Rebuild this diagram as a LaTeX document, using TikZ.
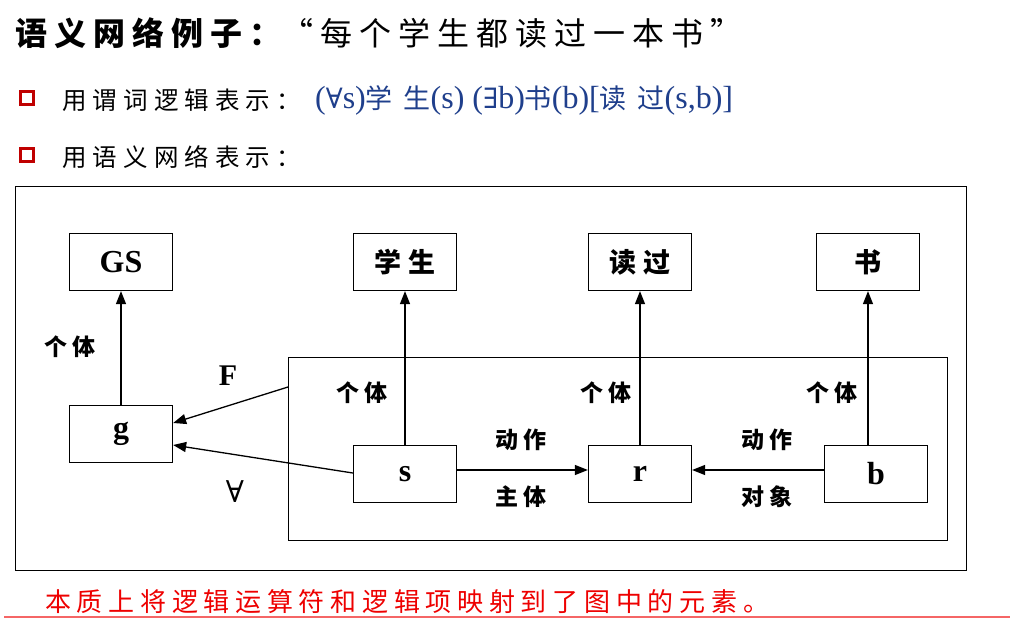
\documentclass[tikz,border=0pt]{standalone}
\usepackage{fontspec}
\setmainfont{Liberation Serif}
\newfontfamily\cjk{Noto Sans CJK SC}
\newfontfamily\cjkf{Noto Sans CJK SC}[LetterSpace=40]
\newfontfamily\cjkw{Noto Sans CJK SC}[LetterSpace=25]
\newfontfamily\cjkt{Noto Sans CJK SC}[LetterSpace=22]
\newfontfamily\symf{DejaVu Serif}
\usetikzlibrary{arrows.meta}
\definecolor{sqred}{HTML}{C00000}
\definecolor{fblue}{HTML}{1F3F8C}
\definecolor{notered}{HTML}{EE0000}
\begin{document}
\begin{tikzpicture}[x=1pt,y=-1pt,
  box/.style={draw,line width=1.3pt,minimum width=103pt,minimum height=57pt,inner sep=0pt},
  latin/.style={font=\fontsize{32}{32}\selectfont\bfseries},
  han/.style={font=\cjkw\fontsize{27}{27}\selectfont\bfseries},
  lab/.style={font=\cjkw\fontsize{23}{23}\selectfont\bfseries,inner sep=0pt},
  link/.style={line width=1.3pt,-{Triangle[length=13pt,width=10pt]}},
  frame/.style={draw,line width=1.3pt,inner sep=0pt},
  bullet/.style={draw=sqred,line width=3.5pt,minimum size=13pt,inner sep=0pt},
  head/.style={anchor=west,inner sep=0pt},
]
\useasboundingbox (0,0) rectangle (1010,627);
\fill[white] (0,0) rectangle (1010,627);

% heading
\node[head,font=\cjkt\fontsize{32}{32}\selectfont] (title) at (15,33)
  {{\bfseries 语义网络例子：}“每个学生都读过一本书”};

% bullet lines
\node[bullet] (sq1) at (27,98) {};
\node[head,font=\cjkw\fontsize{24.5}{24.5}\selectfont] (t1) at (62,100) {用谓词逻辑表示：};
\node[head,text=fblue,font=\fontsize{32}{32}\selectfont] (f1) at (315,100)
  {({\symf\fontsize{28}{28}\selectfont ∀}s){\cjkf\fontsize{27}{27}\selectfont 学生}(s) ({\symf\fontsize{28}{28}\selectfont ∃}b){\cjkf\fontsize{27}{27}\selectfont 书}(b)[{\cjkf\fontsize{27}{27}\selectfont 读过}(s,b)]};
\node[bullet] (sq2) at (27,155) {};
\node[head,font=\cjkw\fontsize{24.5}{24.5}\selectfont] (t2) at (62,157) {用语义网络表示：};

% frames
\node[frame,anchor=north west,minimum width=951pt,minimum height=384pt] (outer) at (15,186) {};
\node[frame,anchor=north west,minimum width=659pt,minimum height=183pt] (inner) at (288,357) {};

% upper concept boxes
\node[box,latin] (nGS) at (121,262) {GS};
\node[box,han] (nXS) at (405,262) {学生};
\node[box,han] (nDG) at (640,262) {读过};
\node[box,han] (nShu) at (868,262) {书};

% lower instance boxes
\node[box,latin] (ng) at (121,434) {g};
\node[box,latin] (ns) at (405,474) {s};
\node[box,latin] (nr) at (640,474) {r};
\node[box,latin] (nb) at (876,474) {b};

% instance-of links
\draw[link] (ng) -- (nGS);
\draw[link] (ns) -- (nXS);
\draw[link] (nr) -- (nDG);
\draw[link] (nb.north -| nShu.south) -- (nShu.south);

% relation links
\draw[link] ([yshift=4pt]ns.east) -- ([yshift=4pt]nr.west);
\draw[link] ([yshift=4pt]nb.west) -- ([yshift=4pt]nr.east);

% quantifier links
\coordinate (fsrc) at (288,387);
\draw[link] (fsrc) -- ([yshift=11pt]ng.east);
\draw[link] ([yshift=1pt]ns.west) -- ([yshift=-11pt]ng.east);

% link labels
\node[lab] (l1) at (70,347) {个体};
\node[lab] (l2) at (362,393) {个体};
\node[lab] (l3) at (606,393) {个体};
\node[lab] (l4) at (832,393) {个体};
\node[lab] (l5) at (521,440) {动作};
\node[lab] (l6) at (521,497) {主体};
\node[lab] (l7) at (767,440) {动作};
\node[lab] (l8) at (767,497) {对象};
\node[font=\fontsize{30}{30}\selectfont\bfseries,inner sep=0pt] (lF) at (228,376) {F};
\node[font=\symf\fontsize{30}{30}\selectfont,inner sep=0pt] (lA) at (235,492) {∀};

% closing remark
\node[head,text=notered,font=\cjkt\fontsize{26}{26}\selectfont] (note) at (45,602)
  {本质上将逻辑运算符和逻辑项映射到了图中的元素。};
\draw[notered!60,line width=1.6pt] (4,617) -- (1010,617);
\end{tikzpicture}
\end{document}
